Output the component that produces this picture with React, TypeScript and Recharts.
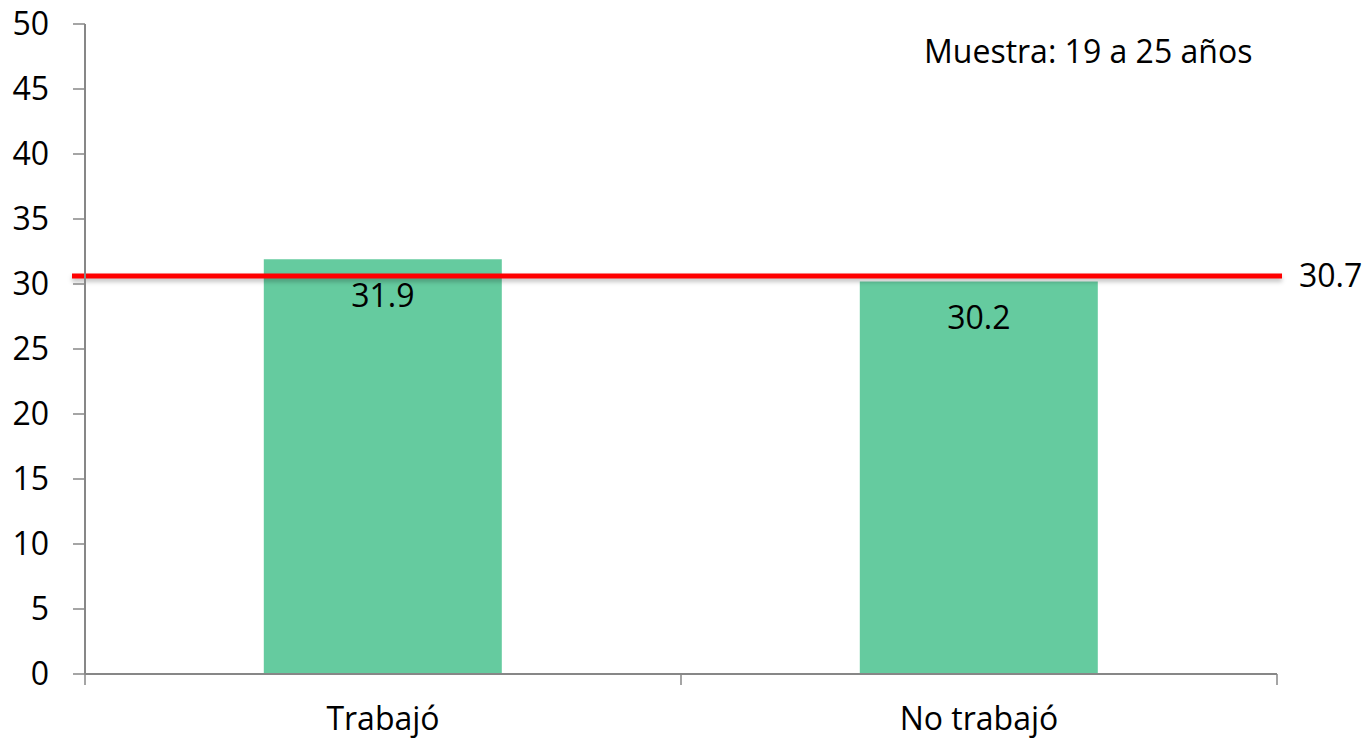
import React from "react";
import { BarChart, Bar, XAxis, YAxis, ReferenceLine, LabelList } from "recharts";

const categories = ["Trabajó", "No trabajó"];
const values = [31.9, 30.2];
const yTicks = [0, 5, 10, 15, 20, 25, 30, 35, 40, 45, 50];
const averageValue = 30.7;
const sampleNote = "Muestra: 19 a 25 años";

const data = categories.map((c, i) => ({ name: c, value: values[i] }));

const FONT = "'Open Sans', Lato, sans-serif";
const FS = 32;
const AXIS_COLOR = "#878787";

const RefShape = (props: any) => {
  const { x1, x2, y1 } = props;
  const y = y1 + 1;
  return (
    <g>
      <line x1={x1 - 13} x2={x2 + 5} y1={y + 3} y2={y + 3} stroke="#000" strokeOpacity={0.22} strokeWidth={6} style={{ filter: "blur(2px)" }} />
      <line x1={x1 - 13} x2={x2 + 5} y1={y} y2={y} stroke="#FF0000" strokeWidth={5} />
      <text x={x2 + 22} y={y} dy="0.35em" fontFamily={FONT} fontSize={FS} fill="#000">
        {averageValue.toFixed(1)}
      </text>
    </g>
  );
};

const XTick = (props: any) => {
  const { x, y, payload, index, visibleTicksCount } = props;
  const half = payload && typeof payload.offset === "number" && payload.offset > 0 ? payload.offset : 298;
  const axisY = y - 10;
  const isLast = index === (visibleTicksCount ?? categories.length) - 1;
  return (
    <g>
      <line x1={x - half} x2={x - half} y1={axisY} y2={axisY + 11} stroke={AXIS_COLOR} strokeWidth={1.5} />
      {isLast && <line x1={x + half} x2={x + half} y1={axisY} y2={axisY + 11} stroke={AXIS_COLOR} strokeWidth={1.5} />}
      <text x={x} y={y + 23} dy="0.71em" textAnchor="middle" fontFamily={FONT} fontSize={FS} fill="#000">
        {payload.value}
      </text>
    </g>
  );
};

export default function App() {
  return (
    <div style={{ position: "absolute", left: 0, top: 0, width: 1369, height: 739, background: "#fff" }}>
      <BarChart
        width={1369}
        height={739}
        data={data}
        margin={{ top: 24, right: 92, bottom: 0, left: 0 }}
        barCategoryGap="30%"
      >
        <XAxis
          dataKey="name"
          height={65}
          tickSize={10}
          tickMargin={0}
          stroke={AXIS_COLOR}
          axisLine={{ stroke: AXIS_COLOR, strokeWidth: 2 }}
          tickLine={false}
          tick={<XTick />}
          interval={0}
        />
        <YAxis
          width={85}
          domain={[0, 50]}
          ticks={yTicks}
          interval={0}
          tickSize={12}
          tickMargin={24}
          stroke={AXIS_COLOR}
          axisLine={{ stroke: AXIS_COLOR, strokeWidth: 2 }}
          tickLine={{ stroke: AXIS_COLOR, strokeWidth: 1.5 }}
          tick={{ fill: "#000", fontSize: FS, fontFamily: FONT }}
        />
        <Bar dataKey="value" fill="#65CB9F" isAnimationActive={false}>
          <LabelList
            dataKey="value"
            position="insideTop"
            offset={25}
            fill="#000"
            fontSize={FS}
            fontFamily={FONT}
            formatter={(v: any) => Number(v).toFixed(1)}
          />
        </Bar>
        <ReferenceLine y={averageValue} ifOverflow="visible" shape={<RefShape />} />
      </BarChart>
      <div
        style={{
          position: "absolute",
          left: 924,
          top: 35,
          fontFamily: FONT,
          fontSize: FS,
          color: "#000",
          whiteSpace: "nowrap",
          lineHeight: "32px",
        }}
      >
        {sampleNote}
      </div>
    </div>
  );
}
